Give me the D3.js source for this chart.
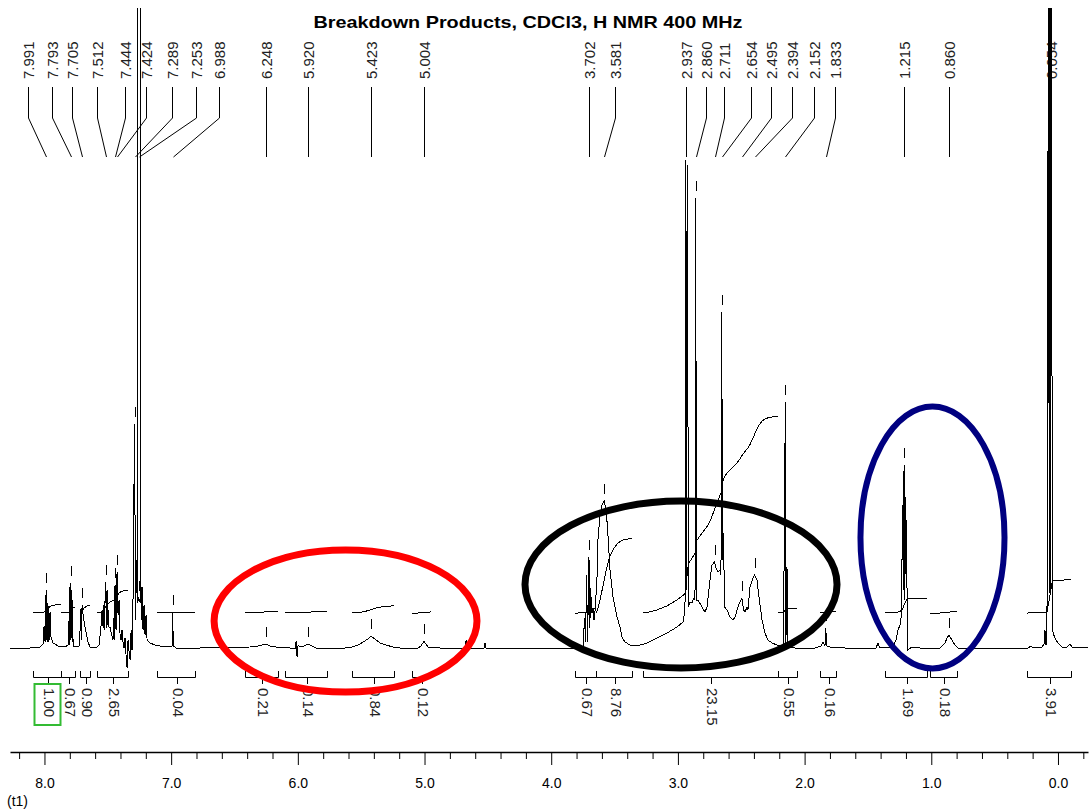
<!DOCTYPE html>
<html>
<head>
<meta charset="utf-8">
<script src="https://cdn.jsdelivr.net/npm/d3@7"></script>
<style>
  body { margin: 0; background: #fff; }
  svg { display: block; font-family: "Liberation Sans", Arial, sans-serif; }
</style>
</head>
<body>
<div id="chart"></div>
<script>
// ---- data ----
const title = "Breakdown Products, CDCl3, H NMR 400 MHz";

const peakPpm = [7.991, 7.793, 7.705, 7.512, 7.444, 7.424, 7.289, 7.253, 6.988, 6.248, 5.920, 5.423, 5.004,
                 3.702, 3.581, 2.937, 2.860, 2.711, 2.654, 2.495, 2.394, 2.152, 1.833, 1.215, 0.860, 0.054];
// where each label sits (ppm) once the software spread them apart
const peakLabelPpm = [8.129, 7.940, 7.782, 7.585, 7.364, 7.198, 6.993, 6.803, 6.622, 6.248, 5.920, 5.423, 5.004,
                      3.702, 3.496, 2.937, 2.778, 2.636, 2.423, 2.265, 2.099, 1.926, 1.760, 1.215, 0.860, 0.054];

const integralValues = [1.00, 0.67, 0.90, 2.65, 0.04, 0.21, 0.14, 0.84, 0.12, 0.67, 8.76, 23.15, 0.55, 0.16, 1.69, 0.18, 3.91];
const integralFrom   = [8.09, 7.87, 7.72, 7.585, 7.115, 6.42, 6.10, 5.57, 5.10, 3.81, 3.646, 3.275, 2.21, 1.88, 1.365, 1.01, 0.245];
const integralTo     = [7.87, 7.76, 7.64, 7.34, 6.81, 6.16, 5.77, 5.24, 4.95, 3.646, 3.36, 2.21, 2.06, 1.75, 1.034, 0.797, -0.103];

// [ppm, intensity]; 700 = off scale
const spectrum = [
  [8.272, 0], [8.114, 0], [8.035, 1], [8.011, 4], [8.003, 22], [7.995, 6], [7.987, 58], [7.982, 8],
  [7.977, 45], [7.972, 6], [7.966, 42], [7.961, 8], [7.956, 36], [7.948, 10], [7.932, 5], [7.893, 2],
  [7.838, 1], [7.814, 3], [7.806, 28], [7.802, 3], [7.798, 65], [7.792, 8], [7.788, 58], [7.782, 6],
  [7.778, 48], [7.774, 2], [7.751, 1], [7.727, 2], [7.719, 18], [7.711, 40], [7.707, 8], [7.703, 43],
  [7.695, 33], [7.687, 26], [7.672, 16], [7.656, 6], [7.640, 1], [7.585, 1], [7.569, 3], [7.561, 13],
  [7.553, 23], [7.545, 38], [7.537, 20], [7.530, 43], [7.526, 18], [7.522, 48], [7.516, 66], [7.512, 20],
  [7.506, 58], [7.501, 23], [7.498, 38], [7.490, 20], [7.482, 21], [7.474, 16], [7.459, 8], [7.451, 30],
  [7.447, 8], [7.443, 63], [7.435, 18], [7.427, 76], [7.419, 33], [7.411, 48], [7.403, 12], [7.395, 8],
  [7.388, 18], [7.380, 6], [7.372, 0], [7.364, 10], [7.356, -7], [7.348, -20], [7.340, 8], [7.332, -4],
  [7.324, -12], [7.316, 18], [7.309, -2], [7.301, 48], [7.289, 224], [7.281, 28], [7.273, 88], [7.267, 45],
  [7.2665, 700], [7.266, 45], [7.255, 50], [7.2445, 45], [7.244, 700], [7.2435, 45], [7.238, 61], [7.230, 28],
  [7.226, 61], [7.222, 18], [7.214, 43], [7.206, 13],
  [7.198, 33], [7.190, 8], [7.167, 5], [7.127, 3], [7.088, 2], [7.009, 1], [6.993, 2], [6.988, 36],
  [6.983, 2], [6.961, 0], [6.772, 0], [6.377, 1], [6.314, 2], [6.283, 3], [6.251, 4], [6.219, 2],
  [6.172, 1], [6.062, 0], [6.018, 0], [6.014, 7], [6.006, -9], [5.998, 3], [5.983, 1], [5.951, 2],
  [5.920, 4], [5.888, 2], [5.856, 0], [5.627, 0], [5.572, 1], [5.525, 3], [5.485, 6], [5.446, 9],
  [5.423, 12], [5.383, 8], [5.351, 5], [5.304, 3], [5.249, 1], [5.193, 0], [5.051, 0], [5.028, 2],
  [5.004, 7], [4.990, 4], [4.972, 1], [4.878, 0], [4.680, 0], [4.672, 8], [4.665, 0], [4.530, 0],
  [4.522, 5], [4.514, 0], [3.931, 0], [3.789, 0], [3.749, 2], [3.737, 30], [3.729, 6], [3.721, 73],
  [3.713, 6], [3.702, 91], [3.695, 20], [3.690, 60], [3.683, 45], [3.678, 35], [3.670, 40], [3.662, 28],
  [3.655, 36], [3.639, 68], [3.631, 108], [3.615, 133], [3.599, 143], [3.581, 147], [3.567, 138], [3.556, 121],
  [3.536, 78], [3.512, 51], [3.480, 31], [3.457, 21], [3.441, 11], [3.418, 6], [3.378, 3], [3.323, 2],
  [3.244, 5], [3.165, 10], [3.086, 15], [3.007, 21], [2.960, 26], [2.944, 38], [2.937, 488], [2.931, 58],
  [2.925, 483], [2.917, 41], [2.905, 46], [2.889, 45], [2.873, 50], [2.865, 48], [2.860, 450], [2.853, 48],
  [2.841, 48], [2.810, 41], [2.786, 36], [2.770, 41], [2.747, 68], [2.731, 83], [2.711, 86], [2.699, 80],
  [2.684, 76], [2.668, 78], [2.660, 73], [2.654, 336], [2.648, 88], [2.640, 115], [2.632, 41], [2.612, 38],
  [2.589, 31], [2.565, 28], [2.549, 31], [2.526, 41], [2.510, 46], [2.495, 50], [2.482, 38], [2.470, 36],
  [2.455, 41], [2.447, 38], [2.431, 61], [2.407, 70], [2.394, 73], [2.376, 68], [2.364, 55], [2.336, 28],
  [2.313, 15], [2.289, 8], [2.257, 5], [2.218, 3], [2.178, 1], [2.167, 2], [2.152, 246], [2.148, 2],
  [2.139, 81], [2.131, 1], [2.076, 0], [1.918, 0], [1.871, 2], [1.855, 6], [1.839, 2], [1.833, 20],
  [1.826, 2], [1.800, 1], [1.681, 0], [1.436, 0], [1.421, 5], [1.405, 0], [1.302, 1], [1.279, 8],
  [1.263, 18], [1.247, 23], [1.235, 33], [1.227, 143], [1.221, 58], [1.215, 183], [1.210, 48], [1.205, 151],
  [1.199, 68], [1.195, 128], [1.189, 8], [1.184, -2], [1.152, 1], [1.089, 0], [0.931, 0], [0.892, 5],
  [0.876, 10], [0.860, 13], [0.837, 8], [0.813, 3], [0.789, 0], [0.237, 0], [0.213, 2], [0.197, 0],
  [0.126, 1], [0.110, 4], [0.103, 18], [0.095, 3], [0.087, 8], [0.075, 700], [0.069, 55], [0.063, 700],
  [0.058, 55], [0.051, 700], [0.045, 48], [0.039, 15], [0.024, 10], [0.000, 5], [-0.032, 1], [-0.071, 1],
  [-0.095, 4], [-0.110, 1], [-0.237, 0]
];

// hand-drawn highlight ellipses: ppm span and intensity span
const ringPpm = [[6.661, 4.586], [4.207, 1.744], [1.559, 0.422]];
const ringInt = [[98, -44], [147, -20], [241.5, -20.5]];
const ringColor = ["#ff0000", "#000000", "#000080"];
const ringWidth = [7, 7, 6];

// ---- drawing ----
const w = 1089, h = 812;
const baseY = 648, topY = 8;
const axisY = 752;
const integralBase = 35;   // intensity units above baseline
const integralScale = 8.5; // intensity units per integral unit

const x = d3.scaleLinear().domain([8.272, -0.237]).range([10, 1088]);
const y = d3.scaleLinear().domain([0, 640]).range([baseY, topY]);

const svg = d3.select("#chart").append("svg")
  .attr("width", w)
  .attr("height", h);

svg.append("defs").append("clipPath").attr("id", "plotclip")
  .append("rect").attr("x", 0).attr("y", topY).attr("width", w).attr("height", h - topY);

// title
svg.append("text")
  .attr("x", 528).attr("y", 28)
  .attr("text-anchor", "middle")
  .attr("font-size", 17)
  .attr("font-weight", "bold")
  .attr("textLength", 429)
  .attr("lengthAdjust", "spacingAndGlyphs")
  .attr("fill", "#000")
  .text(title);

// peak labels + leader lines
const labels = svg.append("g");
peakPpm.forEach((p, i) => {
  const lx = Math.round(x(peakLabelPpm[i])) + 0.5;
  const px = Math.round(x(p)) + 0.5;
  labels.append("text")
    .attr("transform", `translate(${lx + 5},79) rotate(-90)`)
    .attr("font-size", 15)
    .attr("fill", "#222")
    .text(d3.format(".3f")(p));
  labels.append("path")
    .attr("d", `M${lx},87 L${lx},118 L${px},157`)
    .attr("fill", "none")
    .attr("stroke", "#000")
    .attr("stroke-width", 1);
});

// interpolate the trace at a ppm value
function traceAt(p) {
  for (let i = 0; i < spectrum.length - 1; i++) {
    const a = spectrum[i], b = spectrum[i + 1];
    if (p <= a[0] && p >= b[0]) {
      const t = (a[0] - p) / (a[0] - b[0] || 1);
      return a[1] + t * (b[1] - a[1]);
    }
  }
  return 0;
}

// integral curves (running sum of the trace over each range)
const integrals = svg.append("g");
const intLine = d3.line().x(d => x(d[0])).y(d => y(d[1]));
integralValues.forEach((v, i) => {
  const a = integralFrom[i], b = integralTo[i];
  const pts = [[a, traceAt(a)]]
    .concat(spectrum.filter(d => d[0] < a && d[0] > b))
    .concat([[b, traceAt(b)]]);
  let acc = 0;
  const cum = [[pts[0][0], 0]];
  for (let k = 1; k < pts.length; k++) {
    const hA = Math.min(Math.max(pts[k - 1][1], 0), 640);
    const hB = Math.min(Math.max(pts[k][1], 0), 640);
    acc += (pts[k - 1][0] - pts[k][0]) * (hA + hB) / 2;
    cum.push([pts[k][0], acc]);
  }
  const total = acc || 1;
  const curve = cum.map(d => [d[0], integralBase + d[1] / total * v * integralScale]);
  integrals.append("path")
    .attr("d", intLine(curve))
    .attr("fill", "none")
    .attr("stroke", "#000")
    .attr("stroke-width", 1)
    .attr("shape-rendering", "crispEdges");
});

// spectrum
svg.append("path")
  .attr("clip-path", "url(#plotclip)")
  .attr("d", d3.line().x(d => x(d[0])).y(d => y(d[1]))(spectrum))
  .attr("fill", "none")
  .attr("stroke", "#000")
  .attr("stroke-width", 1)
  .attr("shape-rendering", "crispEdges");

// little tick above each picked peak
peakPpm.forEach(p => {
  const top = d3.max(spectrum.filter(d => Math.abs(d[0] - p) < 0.008), d => d[1]) || traceAt(p);
  if (top > 600) return;
  const px = Math.round(x(p)) + 0.5;
  svg.append("line")
    .attr("x1", px).attr("x2", px)
    .attr("y1", y(top) - 7).attr("y2", y(top) - 17)
    .attr("stroke", "#000").attr("stroke-width", 1);
});

// integral brackets and values
const brackets = svg.append("g");
integralValues.forEach((v, i) => {
  const x0 = Math.round(x(integralFrom[i])) + 0.5;
  const x1 = Math.round(x(integralTo[i])) + 0.5;
  const xc = Math.round((x0 + x1) / 2) + 0.5;
  brackets.append("path")
    .attr("d", `M${x0},671 L${x0},677.5 L${x1},677.5 L${x1},671 M${xc},677.5 L${xc},684`)
    .attr("fill", "none")
    .attr("stroke", "#000")
    .attr("stroke-width", 1);
  brackets.append("text")
    .attr("transform", `translate(${xc - 5},688) rotate(90)`)
    .attr("font-size", 15)
    .attr("fill", "#222")
    .text(d3.format(".2f")(v));
  if (i === 0) {
    brackets.append("rect")
      .attr("x", xc - 14).attr("y", 684)
      .attr("width", 26).attr("height", 41)
      .attr("fill", "none")
      .attr("stroke", "#33bb33")
      .attr("stroke-width", 2);
  }
});

// highlight ellipses
ringPpm.forEach((r, i) => {
  const cx = (x(r[0]) + x(r[1])) / 2, rx = Math.abs(x(r[1]) - x(r[0])) / 2;
  const cy = (y(ringInt[i][0]) + y(ringInt[i][1])) / 2, ry = Math.abs(y(ringInt[i][1]) - y(ringInt[i][0])) / 2;
  svg.append("ellipse")
    .attr("cx", cx).attr("cy", cy).attr("rx", rx).attr("ry", ry)
    .attr("fill", "none")
    .attr("stroke", ringColor[i])
    .attr("stroke-width", ringWidth[i]);
});

// ppm axis
const tickVals = d3.range(-2, 83, 2).map(d => d / 10);
const isMajor = d => Math.abs(d - Math.round(d)) < 1e-6;
const xAxis = d3.axisBottom(x)
  .tickValues(tickVals)
  .tickSize(6)
  .tickSizeOuter(0)
  .tickFormat(d => isMajor(d) ? d3.format(".1f")(d) : "");

const gx = svg.append("g")
  .attr("transform", `translate(0,${axisY})`)
  .call(xAxis);
gx.select(".domain").attr("stroke-width", 1.5);
gx.selectAll(".tick line").attr("y2", d => isMajor(d) ? 13 : 7);
gx.selectAll(".tick text")
  .attr("y", 26)
  .attr("font-size", 14)
  .attr("font-family", "Liberation Sans, Arial, sans-serif")
  .attr("fill", "#000");

svg.append("text")
  .attr("x", 7).attr("y", 806)
  .attr("font-size", 14)
  .attr("fill", "#000")
  .text("(t1)");
</script>
</body>
</html>
